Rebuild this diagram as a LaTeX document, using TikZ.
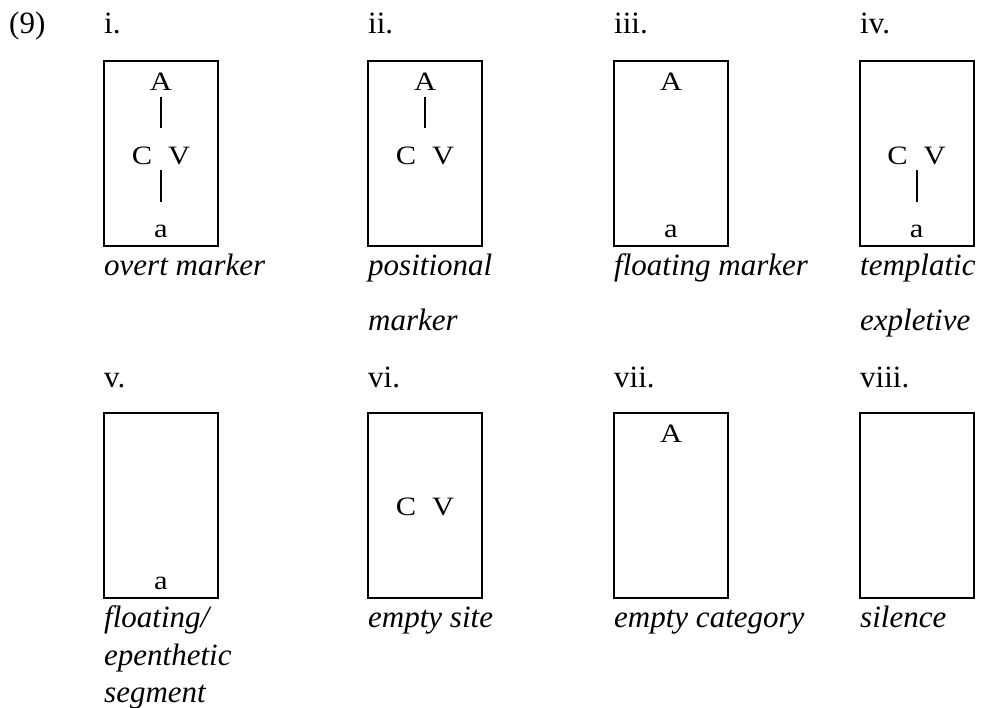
\documentclass[tikz,border=0pt]{standalone}
\usepackage{fontspec}
\setmainfont{Liberation Serif}
\newfontfamily\segfont[FakeStretch=1.15]{Liberation Serif}
\begin{document}
\begin{tikzpicture}[x=1pt,y=-1pt,
  cell/.style={draw,line width=2pt,minimum width=114pt,minimum height=185pt,inner sep=0pt,anchor=north},
  lbl/.style={anchor=base west,inner sep=0pt,font=\fontsize{31pt}{37pt}\selectfont},
  capt/.style={anchor=base west,inner sep=0pt,font=\fontsize{31pt}{37pt}\selectfont\itshape},
  seg/.style={anchor=base,inner sep=0pt,text height=17pt,text depth=0pt,font=\segfont\fontsize{26.5pt}{30pt}\selectfont},
  stem/.style={line width=2pt}]
\useasboundingbox (0,0) rectangle (981,707);
\node[lbl] (ex) at (9,33) {(9)};
% row 1
\node[cell] (b1) at (161,60) {};
\node[cell] (b2) at (425,60) {};
\node[cell] (b3) at (671,60) {};
\node[cell] (b4) at (916.5,60) {};
\node[lbl] (l1) at (104,33) {i.};
\node[lbl] (l2) at (368,33) {ii.};
\node[lbl] (l3) at (614,33) {iii.};
\node[lbl] (l4) at (860,33) {iv.};
% i
\node[seg] (A1) at (161,90) {A};
\node[seg] (CV1) at (161,164) {C\hspace{16pt}V};
\node[seg] (a1) at (161,237) {a};
\draw[stem,shorten <=7pt,shorten >=19pt] (A1.south) -- (CV1.north);
\draw[stem,shorten <=6pt,shorten >=18pt] (CV1.south) -- (a1.north);
% ii
\node[seg] (A2) at (425,90) {A};
\node[seg] (CV2) at (425,164) {C\hspace{16pt}V};
\draw[stem,shorten <=7pt,shorten >=19pt] (A2.south) -- (CV2.north);
% iii
\node[seg] (A3) at (671,90) {A};
\node[seg] (a3) at (671,237) {a};
% iv
\node[seg] (CV4) at (916.5,164) {C\hspace{16pt}V};
\node[seg] (a4) at (916.5,237) {a};
\draw[stem,shorten <=6pt,shorten >=18pt] (CV4.south) -- (a4.north);
% captions row 1
\node[capt] (c1) at (104,275) {overt marker};
\node[capt] (c2a) at (368,275) {positional};
\node[capt] (c2b) at (368,330) {marker};
\node[capt] (c3) at (614,275) {floating marker};
\node[capt] (c4a) at (860,275) {templatic};
\node[capt] (c4b) at (860,330) {expletive};
% row 2
\node[cell] (b5) at (161,412) {};
\node[cell] (b6) at (425,412) {};
\node[cell] (b7) at (671,412) {};
\node[cell] (b8) at (916.5,412) {};
\node[lbl] (l5) at (104,387) {v.};
\node[lbl] (l6) at (368,387) {vi.};
\node[lbl] (l7) at (614,387) {vii.};
\node[lbl] (l8) at (860,387) {viii.};
\node[seg] (a5) at (161,589) {a};
\node[seg] (CV6) at (425,515) {C\hspace{16pt}V};
\node[seg] (A7) at (671,442) {A};
% captions row 2
\node[capt] (c5a) at (104,627) {floating/};
\node[capt] (c5b) at (104,665) {epenthetic};
\node[capt] (c5c) at (104,702) {segment};
\node[capt] (c6) at (368,627) {empty site};
\node[capt] (c7) at (614,627) {empty category};
\node[capt] (c8) at (860,627) {silence};
\end{tikzpicture}
\end{document}
